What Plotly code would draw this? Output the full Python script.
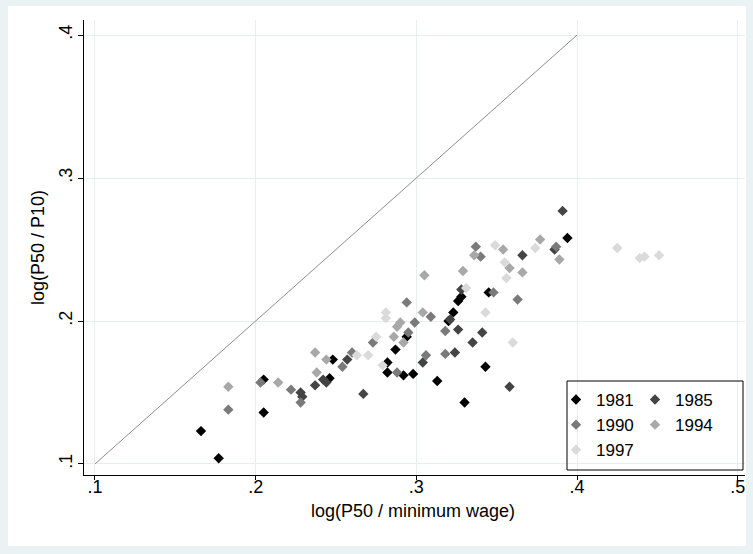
import plotly.graph_objects as go

# ---- data ----
x_1981 = [0.166, 0.177, 0.205, 0.205, 0.248, 0.246, 0.282, 0.282, 0.287, 0.294, 0.292, 0.298,
          0.313, 0.330, 0.343, 0.326, 0.328, 0.323, 0.320, 0.345, 0.394]
y_1981 = [0.123, 0.104, 0.136, 0.159, 0.173, 0.160, 0.171, 0.164, 0.180, 0.189, 0.162, 0.163,
          0.158, 0.143, 0.168, 0.214, 0.217, 0.206, 0.200, 0.220, 0.258]

x_1985 = [0.228, 0.229, 0.237, 0.242, 0.244, 0.257, 0.267, 0.328, 0.321, 0.326, 0.341, 0.335,
          0.324, 0.304, 0.358, 0.391, 0.386, 0.366]
y_1985 = [0.150, 0.147, 0.155, 0.159, 0.157, 0.173, 0.149, 0.222, 0.201, 0.194, 0.192, 0.185,
          0.178, 0.171, 0.154, 0.277, 0.250, 0.246]

x_1990 = [0.183, 0.203, 0.222, 0.228, 0.254, 0.260, 0.273, 0.288, 0.294, 0.309, 0.299, 0.295,
          0.318, 0.318, 0.306, 0.337, 0.340, 0.348, 0.363, 0.387]
y_1990 = [0.138, 0.157, 0.152, 0.143, 0.168, 0.178, 0.185, 0.164, 0.213, 0.203, 0.199, 0.192,
          0.193, 0.177, 0.176, 0.252, 0.245, 0.220, 0.215, 0.252]

x_1994 = [0.183, 0.214, 0.237, 0.238, 0.244, 0.305, 0.304, 0.290, 0.288, 0.286, 0.292, 0.336,
          0.329, 0.354, 0.358, 0.366, 0.377, 0.389]
y_1994 = [0.154, 0.157, 0.178, 0.164, 0.173, 0.232, 0.206, 0.199, 0.196, 0.189, 0.185, 0.246,
          0.235, 0.250, 0.237, 0.234, 0.257, 0.243]

x_1997 = [0.263, 0.270, 0.275, 0.279, 0.281, 0.281, 0.331, 0.343, 0.349, 0.355, 0.356, 0.360,
          0.374, 0.425, 0.439, 0.442, 0.451]
y_1997 = [0.176, 0.176, 0.189, 0.169, 0.206, 0.202, 0.223, 0.206, 0.253, 0.241, 0.230, 0.185,
          0.251, 0.251, 0.244, 0.245, 0.246]

diag = [0.1, 0.4]
tick_vals = [0.1, 0.2, 0.3, 0.4, 0.5]
tick_text = [".1", ".2", ".3", ".4", ".5"]
ytick_vals = [0.1, 0.2, 0.3, 0.4]
ytick_text = [".1", ".2", ".3", ".4"]
x_title = "log(P50 / minimum wage)"
y_title = "log(P50 / P10)"

series = [
    ("1981", x_1981, y_1981, "#000000", "legend"),
    ("1985", x_1985, y_1985, "#444444", "legend2"),
    ("1990", x_1990, y_1990, "#7a7a7a", "legend"),
    ("1994", x_1994, y_1994, "#a8a8a8", "legend2"),
    ("1997", x_1997, y_1997, "#dadada", "legend"),
]

FONT = "Liberation Sans, Arial, sans-serif"
fig = go.Figure()

fig.add_trace(go.Scatter(x=diag, y=diag, mode="lines", line=dict(color="#8c8c8c", width=1),
                         showlegend=False, hoverinfo="skip"))

for name, xs, ys, col, lg in series:
    fig.add_trace(go.Scatter(x=xs, y=ys, mode="markers", name=name, legend=lg, legendgroup=name,
                             marker=dict(symbol="diamond", size=8, color=col, line=dict(width=0))))

W, H = 753, 554
L, R, T, B = 84, 8, 20, 79
pw, ph = W - L - R, H - T - B

def px2paper_x(px):
    return (px - L) / pw

def px2paper_y(py):
    return (H - B - py) / ph

shapes = [
    dict(type="rect", xref="paper", yref="paper", layer="below",
         x0=px2paper_x(8), x1=px2paper_x(746), y0=px2paper_y(546), y1=px2paper_y(6),
         fillcolor="white", line=dict(width=0)),
    dict(type="rect", xref="paper", yref="paper", layer="above",
         x0=px2paper_x(567), x1=px2paper_x(743), y0=px2paper_y(470), y1=px2paper_y(381),
         fillcolor="rgba(0,0,0,0)", line=dict(color="#000000", width=1)),
]

annotations = [
    dict(text=x_title, xref="paper", yref="paper", x=px2paper_x(413), y=px2paper_y(511),
         xanchor="center", yanchor="middle", showarrow=False, font=dict(size=18)),
]

fig.update_layout(
    width=W, height=H,
    margin=dict(l=L, r=R, t=T, b=B, pad=0),
    paper_bgcolor="#eaf2f3",
    plot_bgcolor="white",
    font=dict(family=FONT, size=18, color="#000000"),
    shapes=shapes,
    annotations=annotations,
    xaxis=dict(range=[0.0932, 0.5045], tickvals=tick_vals, ticktext=tick_text,
               automargin=False,
               showgrid=True, gridcolor="#e6eef0", gridwidth=1, zeroline=False,
               showline=True, linecolor="#000000", linewidth=1,
               ticks="outside", ticklen=4, tickcolor="#000000",
               tickfont=dict(size=18), ticklabelstandoff=-9),
    yaxis=dict(range=[0.0923, 0.4105], tickvals=ytick_vals, ticktext=ytick_text,
               automargin=False,
               showgrid=True, gridcolor="#e6eef0", gridwidth=1, zeroline=False,
               showline=True, linecolor="#000000", linewidth=1,
               ticks="outside", ticklen=5, tickcolor="#000000",
               tickangle=-90, tickfont=dict(size=18), ticklabelstandoff=-1,
               title=dict(text=y_title, font=dict(size=18), standoff=6)),
    legend=dict(x=px2paper_x(556), y=px2paper_y(382), xanchor="left", yanchor="top",
                bgcolor="rgba(0,0,0,0)", borderwidth=0, tracegroupgap=0,
                font=dict(size=17), itemwidth=30),
    legend2=dict(x=px2paper_x(635), y=px2paper_y(382), xanchor="left", yanchor="top",
                 bgcolor="rgba(0,0,0,0)", borderwidth=0, tracegroupgap=0,
                 font=dict(size=17), itemwidth=30),
    showlegend=True,
)

fig.write_html("out.html", config={"displayModeBar": False},
               post_script="document.body.style.margin='0px';")
